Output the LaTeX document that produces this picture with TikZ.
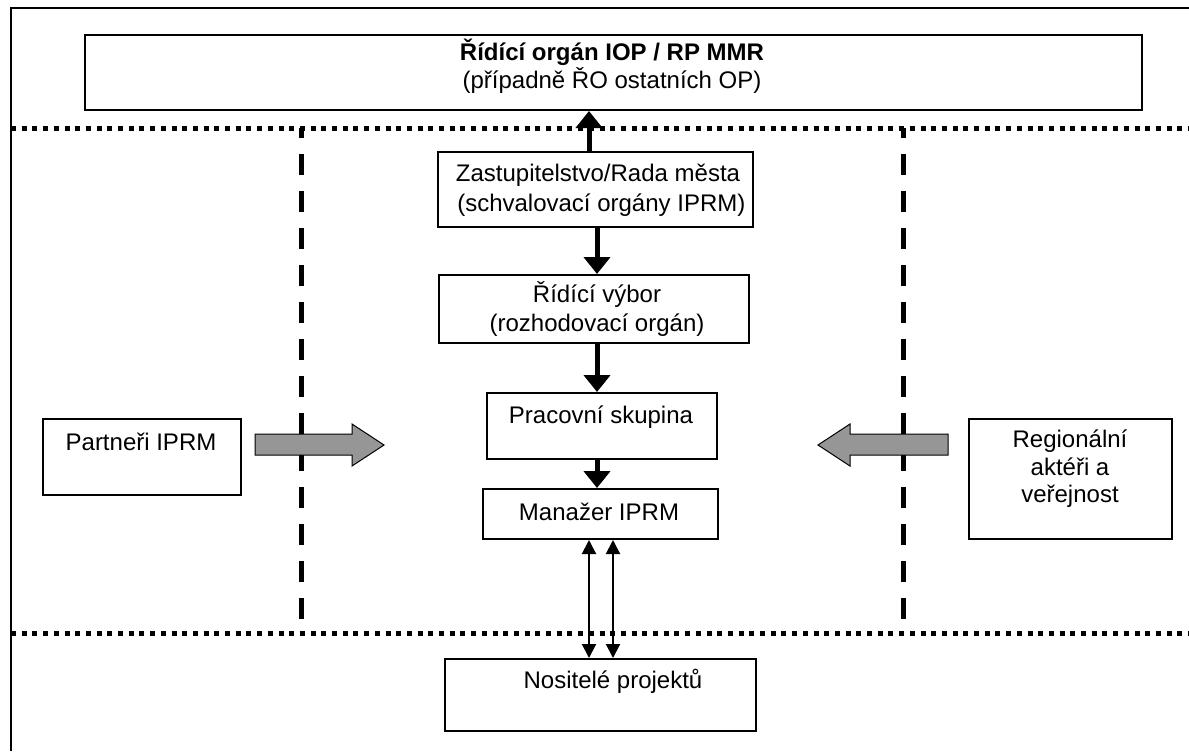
\documentclass[tikz,border=0pt]{standalone}
\usepackage{fontspec}
\setmainfont{Liberation Sans}
\usetikzlibrary{arrows.meta}
\begin{document}
\begin{tikzpicture}[x=0.5pt,y=-0.5pt,
  box/.style={draw=black,line width=1pt,rectangle,inner sep=0pt,anchor=north west},
  txt/.style={align=center,inner sep=0pt,font=\fontsize{12}{14}\selectfont},
  dotline/.style={line width=2.5pt,dash pattern=on 2.5pt off 2.85pt},
  dashline/.style={line width=2.5pt,dash pattern=on 10.5pt off 8pt,dash phase=5.5pt},
  flow/.style={line width=2.5pt,-{Triangle[width=13pt,length=8.5pt]}},
  dbl/.style={line width=1pt,{Triangle[width=7pt,length=7pt]}-{Triangle[width=7pt,length=7pt]}},
  grayarrow/.style={fill=black!41,draw=black,line width=0.5pt}]
\useasboundingbox (0,0) rectangle (1189,751);
% outer frame
\draw[line width=1pt] (11,751) -- (11,8) -- (1189,8);
% dotted separators
\coordinate (d1a) at (11,128); \coordinate (d1b) at (1189,128);
\coordinate (d2a) at (11,633); \coordinate (d2b) at (1189,633);
\draw[dotline] (d1a) -- (d1b);
\draw[dotline] (d2a) -- (d2b);
% dashed verticals
\coordinate (vla) at (301,128); \coordinate (vlb) at (301,633);
\coordinate (vra) at (903,128); \coordinate (vrb) at (903,633);
\draw[dashline] (vla) -- (vlb);
\draw[dashline] (vra) -- (vrb);
% boxes
\node[box,minimum width=528.5pt,minimum height=37.5pt] (top) at (84,34) {};
\node[txt,font=\fontsize{12}{13}\selectfont] (toptxt) at (612,66) {\textbf{Řídící orgán IOP / RP MMR}\\(případně ŘO ostatních OP)};
\node[box,fill=white,minimum width=157.5pt,minimum height=37.5pt] (zast) at (437,151) {};
\node[txt,font=\fontsize{12}{15}\selectfont] (zasttxt) at (598,190) {Zastupitelstvo/Rada města\\\ (schvalovací orgány IPRM)};
\node[box,minimum width=155pt,minimum height=34pt] (rv) at (438,274) {};
\node[txt,font=\fontsize{12}{14.5}\selectfont] (rvtxt) at (597,309) {Řídící výbor\\(rozhodovací orgán)};
\node[box,minimum width=115pt,minimum height=33pt] (ps) at (486,392) {};
\node[txt] (pstxt) at (601,417) {Pracovní skupina};
\node[box,minimum width=117.5pt,minimum height=25pt] (man) at (482,488) {};
\node[txt] (mantxt) at (599,512) {Manažer IPRM};
\node[box,minimum width=155.5pt,minimum height=36pt] (nos) at (444,658) {};
\node[txt] (nostxt) at (613,681) {Nositelé projektů};
\node[box,minimum width=99pt,minimum height=38pt] (par) at (42,418) {};
\node[txt] (partxt) at (141,442) {Partneři IPRM};
\node[box,minimum width=101.5pt,minimum height=60pt] (reg) at (968,418) {};
\node[txt,font=\fontsize{12}{13.75}\selectfont] (regtxt) at (1070,469) {Regionální\\aktéři a\\veřejnost};
% connectors
\draw[flow] (zast.north -| 589,0) -- (top.south -| 589,0);
\draw[flow] (zast.south -| 597,0) -- (rv.north -| 597,0);
\draw[flow] (rv.south -| 597,0) -- (ps.north -| 597,0);
\draw[flow] (ps.south -| 597,0) -- (man.north -| 597,0);
\draw[dbl] (man.south -| 589,0) -- (nos.north -| 589,0);
\draw[dbl] (man.south -| 613,0) -- (nos.north -| 613,0);
% gray block arrows
\coordinate (la) at (255,445);
\draw[grayarrow] (255,434) -- (352,434) -- (352,424) -- (384,445) -- (352,466) -- (352,455) -- (255,455) -- cycle;
\draw[grayarrow] (948,434) -- (850,434) -- (850,424) -- (818,445) -- (850,466) -- (850,455) -- (948,455) -- cycle;
\end{tikzpicture}
\end{document}
